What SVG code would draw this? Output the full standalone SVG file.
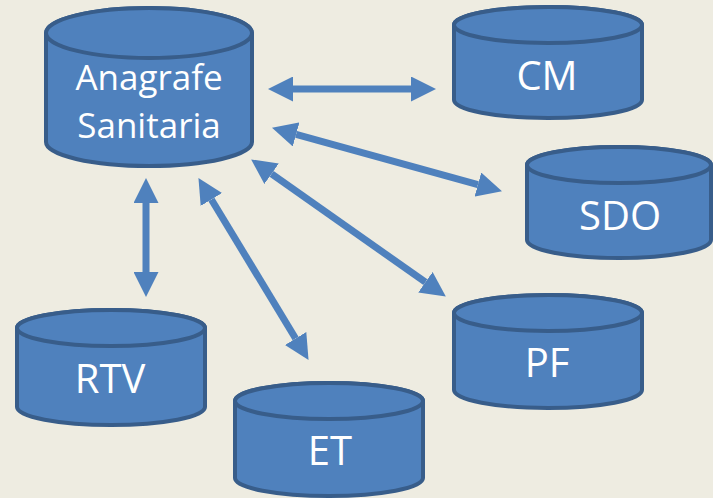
<svg xmlns="http://www.w3.org/2000/svg" width="713" height="498" viewBox="0 0 713 498">
<defs>
<style>
.body{fill:#4f81bd;stroke:#385d8a;stroke-width:4}
.lbl{fill:#ffffff;font-family:"Open Sans","Liberation Sans",sans-serif;text-anchor:middle}
.big{font-size:35px}
.sm{font-size:40px}
.arr{stroke:#4f81bd;stroke-width:7;fill:none;marker-start:url(#ah);marker-end:url(#ah)}
</style>
<marker id="ah" markerUnits="userSpaceOnUse" markerWidth="25" markerHeight="25" refX="0" refY="12" orient="auto-start-reverse" viewBox="0 0 24 24">
<path d="M0,0 L24,12 L0,24 z" fill="#4f81bd"/>
</marker>
</defs>
<rect width="713" height="498" fill="#eeece1"/>
<g id="connectors">
<line class="arr" x1="293" y1="89" x2="411" y2="89"/>
<line class="arr" x1="296.1" y1="134.4" x2="477.9" y2="184.6"/>
<line class="arr" x1="271.6" y1="173.8" x2="425.4" y2="282.2"/>
<line class="arr" x1="211.4" y1="199.5" x2="295.6" y2="338.5"/>
<line class="arr" x1="146" y1="203" x2="146" y2="272"/>
</g>
<g id="anagrafe">
<path class="body" d="M46,33 L46,142 A103,24 0 0 0 252,142 L252,33 A103,25 0 0 0 46,33 Z"/>
<ellipse class="body" cx="149" cy="33" rx="103" ry="25"/>
<text class="lbl big" x="149" y="90">Anagrafe</text>
<text class="lbl big" x="149" y="138">Sanitaria</text>
</g>
<g id="cm">
<path class="body" d="M454,25 L454,100 A94,18 0 0 0 642,100 L642,25 A94,18 0 0 0 454,25 Z"/>
<ellipse class="body" cx="548" cy="25" rx="94" ry="18"/>
<text class="lbl sm" x="547" y="90">CM</text>
</g>
<g id="sdo">
<path class="body" d="M527,165 L527,240 A92,18 0 0 0 711,240 L711,165 A92,18 0 0 0 527,165 Z"/>
<ellipse class="body" cx="619" cy="165" rx="92" ry="18"/>
<text class="lbl sm" x="620" y="230">SDO</text>
</g>
<g id="pf">
<path class="body" d="M454,313 L454,390 A94,18 0 0 0 642,390 L642,313 A94,18 0 0 0 454,313 Z"/>
<ellipse class="body" cx="548" cy="313" rx="94" ry="18"/>
<text class="lbl sm" x="547" y="377">PF</text>
</g>
<g id="rtv">
<path class="body" d="M17,328 L17,407 A94,18 0 0 0 205,407 L205,328 A94,18 0 0 0 17,328 Z"/>
<ellipse class="body" cx="111" cy="328" rx="94" ry="18"/>
<text class="lbl sm" x="110" y="393">RTV</text>
</g>
<g id="et">
<path class="body" d="M235,401 L235,478 A94,18 0 0 0 423,478 L423,401 A94,18 0 0 0 235,401 Z"/>
<ellipse class="body" cx="329" cy="401" rx="94" ry="18"/>
<text class="lbl sm" x="330" y="465">ET</text>
</g>
</svg>
